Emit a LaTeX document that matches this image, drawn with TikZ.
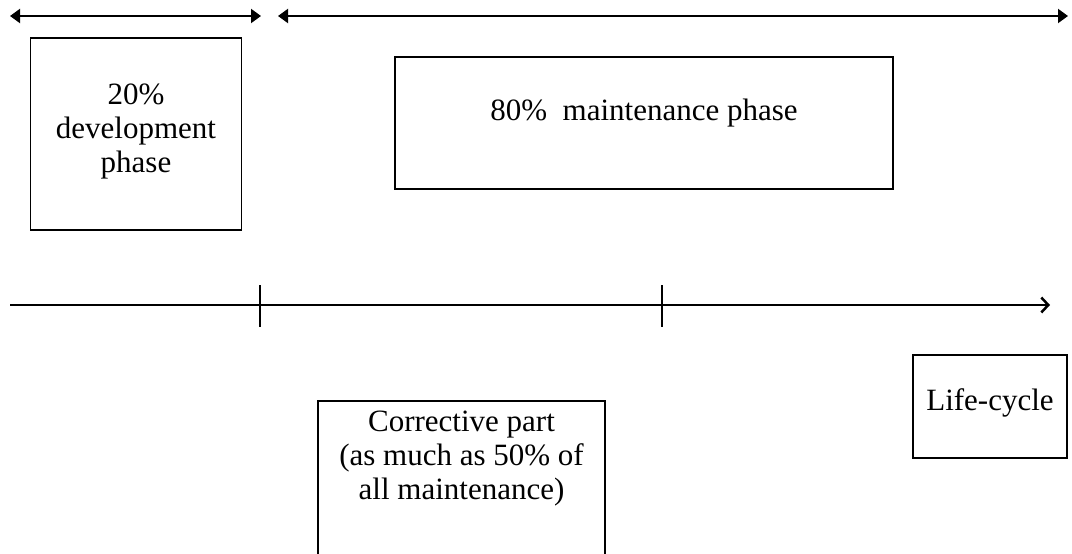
\documentclass[tikz,border=0pt]{standalone}
\usepackage{fontspec}
\setmainfont{Liberation Serif}
\usetikzlibrary{arrows.meta}
\begin{document}
\begin{tikzpicture}[x=1pt,y=-1pt,
  box/.style={draw, line width=1.8pt, inner sep=0pt},
  txt/.style={align=center, inner sep=0pt, font=\fontsize{31}{34}\selectfont},
  span/.style={line width=2pt, {Triangle[length=10pt,width=14pt]}-{Triangle[length=10pt,width=14pt]}},
  axis/.style={line width=2pt, -{Straight Barb[length=7pt,width=15pt,line width=2.5pt]}},
  tick/.style={line width=2pt}]
\useasboundingbox (0,0) rectangle (1072,554);
\clip (0,0) rectangle (1072,554);

% phase spans along the top
\coordinate (d1) at (10,16);
\coordinate (d2) at (261,16);
\coordinate (m1) at (278,16);
\coordinate (m2) at (1068,16);
\draw[span] (d1) -- (d2);
\draw[span] (m1) -- (m2);

% phase boxes
\node[box, minimum width=211pt, minimum height=192pt] (dev) at (136,134) {};
\node[txt] (devt) at (136,131) {20\%\\development\\phase};
\node[box, minimum width=498pt, minimum height=132pt] (maint) at (644,123) {};
\node[txt] (maintt) at (644,113) {80\%\ \ maintenance phase};

% life-cycle axis with its two marks
\coordinate (a0) at (10,305);
\coordinate (a1) at (1050,305);
\draw[axis] (a0) -- (a1);
\coordinate (t1a) at (260,285);
\coordinate (t1b) at (260,327);
\coordinate (t2a) at (662,285);
\coordinate (t2b) at (662,327);
\draw[tick] (t1a) -- (t1b);
\draw[tick] (t2a) -- (t2b);

% lower boxes
\node[box, minimum width=287pt, minimum height=240pt] (corr) at (461.5,521) {};
\node[txt] (corrt) at (461.5,459) {Corrective part\\(as much as 50\% of\\all maintenance)};
\node[box, minimum width=154pt, minimum height=103pt] (life) at (990,406.5) {};
\node[txt] (lifet) at (990,403) {Life-cycle};
\end{tikzpicture}
\end{document}
